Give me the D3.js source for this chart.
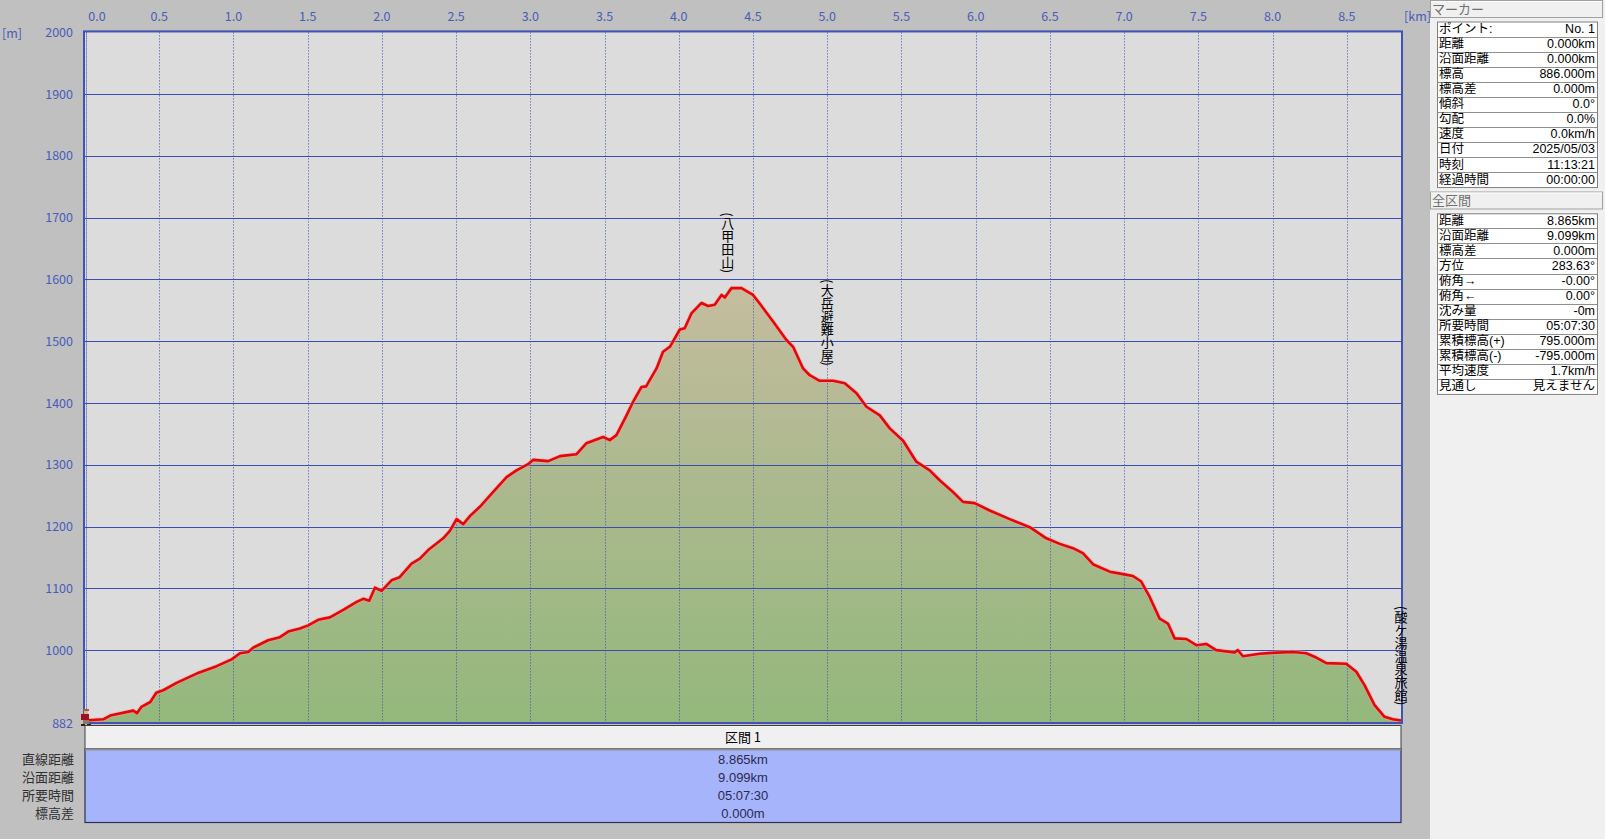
<!DOCTYPE html>
<html><head><meta charset="utf-8">
<script src="https://cdn.jsdelivr.net/npm/d3@7"></script>
<style>
body{margin:0;background:#c0c0c0;overflow:hidden}
svg{display:block}
text{font-family:"Noto Sans CJK JP","Noto Sans",sans-serif}
text.tbl{font-family:"Liberation Sans","Noto Sans CJK JP",sans-serif}
</style></head><body>
<svg id="c" width="1605" height="839"></svg>
<script>
// ---- data ----
const distKm = [0.000,0.123,0.170,0.325,0.350,0.380,0.440,0.480,0.527,0.617,0.752,0.887,0.988,1.044,1.100,1.133,1.234,1.313,1.369,1.448,1.504,1.571,1.650,1.740,1.830,1.874,1.915,1.953,1.998,2.065,2.120,2.200,2.256,2.312,2.413,2.458,2.503,2.548,2.593,2.660,2.750,2.840,2.907,2.985,3.020,3.120,3.200,3.310,3.378,3.445,3.490,3.535,3.580,3.648,3.692,3.749,3.780,3.850,3.894,3.940,4.007,4.040,4.085,4.153,4.197,4.242,4.288,4.310,4.355,4.422,4.500,4.545,4.635,4.725,4.770,4.837,4.882,4.949,5.040,5.118,5.197,5.264,5.354,5.421,5.511,5.600,5.690,5.757,5.847,5.914,5.993,6.094,6.229,6.364,6.476,6.566,6.655,6.722,6.790,6.902,6.992,7.059,7.115,7.172,7.239,7.295,7.340,7.419,7.486,7.553,7.620,7.744,7.766,7.800,7.912,8.025,8.137,8.227,8.294,8.362,8.496,8.564,8.620,8.687,8.754,8.810,8.865];
const elevM = [886,888,894,902,898,908,916,931,935,947,962,974,985,995,997,1004,1016,1021,1030,1035,1040,1049,1053,1065,1078,1083,1080,1101,1096,1113,1118,1140,1148,1162,1181,1193,1212,1204,1217,1232,1256,1280,1291,1301,1308,1306,1314,1317,1335,1341,1345,1340,1348,1380,1402,1426,1427,1456,1483,1491,1519,1521,1545,1562,1557,1559,1575,1571,1586,1586,1575,1561,1532,1502,1491,1456,1445,1436,1436,1432,1416,1394,1380,1359,1339,1305,1291,1275,1256,1240,1238,1226,1212,1199,1181,1172,1165,1157,1139,1127,1123,1120,1111,1086,1051,1043,1019,1018,1008,1010,1000,996,1000,990,994,996,997,995,988,979,978,965,943,911,892,888,886];
const xTickValues = [0.0,0.5,1.0,1.5,2.0,2.5,3.0,3.5,4.0,4.5,5.0,5.5,6.0,6.5,7.0,7.5,8.0,8.5];
const yTickValues = [882,1000,1100,1200,1300,1400,1500,1600,1700,1800,1900,2000];
const waypointNames = ["(八甲田山)","(大岳避難小屋)","(酸ケ湯温泉旅館)"];
const waypointKm = [4.33,5.0,8.865];
const waypointElev = [1586,1436,886];
const markerLabels = ["ポイント:","距離","沿面距離","標高","標高差","傾斜","勾配","速度","日付","時刻","経過時間"];
const markerValues = ["No. 1","0.000km","0.000km","886.000m","0.000m","0.0°","0.0%","0.0km/h","2025/05/03","11:13:21","00:00:00"];
const totalLabels = ["距離","沿面距離","標高差","方位","俯角→","俯角←","沈み量","所要時間","累積標高(+)","累積標高(-)","平均速度","見通し"];
const totalValues = ["8.865km","9.099km","0.000m","283.63°","-0.00°","0.00°","-0m","05:07:30","795.000m","-795.000m","1.7km/h","見えません"];
const sectionTitle = "区間 1";
const sectionLabels = ["直線距離","沿面距離","所要時間","標高差"];
const sectionValues = ["8.865km","9.099km","05:07:30","0.000m"];

// ---- layout ----
const svg = d3.select("#c");
const L=85, R=1401, T=32.4, B=723;
const x = d3.scaleLinear().domain([0,8.865]).range([L,R]);
const y = d3.scaleLinear().domain([882,2000]).range([B,T]);
const gridC = "#3a4db4", tickC = "#4a5cb8";

svg.append("rect").attr("x",0).attr("y",0).attr("width",1605).attr("height",839).attr("fill","#c0c0c0");
svg.append("rect").attr("x",L).attr("y",T).attr("width",R-L).attr("height",B-T).attr("fill","#dcdcdc");

// gradient fill
const defs = svg.append("defs");
const grad = defs.append("linearGradient").attr("id","g").attr("gradientUnits","userSpaceOnUse")
  .attr("x1",0).attr("x2",0).attr("y1",y(1600)).attr("y2",y(882));
grad.append("stop").attr("offset",0).attr("stop-color","#c6bd9f");
grad.append("stop").attr("offset",0.45).attr("stop-color","#acb98e");
grad.append("stop").attr("offset",1).attr("stop-color","#94b87c");

const pts = distKm.map((d,i)=>[d,elevM[i]]);
svg.append("path").datum(pts)
  .attr("d",d3.area().x(d=>x(d[0])).y0(y(882)).y1(d=>y(d[1])))
  .attr("fill","url(#g)");

// grid
svg.append("g").selectAll("line").data(yTickValues.filter(v=>v>882&&v<2000)).join("line")
  .attr("x1",L).attr("x2",R).attr("y1",d=>Math.round(y(d))+0.5).attr("y2",d=>Math.round(y(d))+0.5)
  .attr("stroke",gridC).attr("stroke-width",1.2);
svg.append("g").selectAll("line").data(xTickValues.filter(v=>v>0)).join("line")
  .attr("x1",d=>Math.round(x(d))+0.5).attr("x2",d=>Math.round(x(d))+0.5).attr("y1",T).attr("y2",B)
  .attr("stroke",gridC).attr("stroke-width",1).attr("stroke-dasharray","1,2");

// profile line
const line = d3.line().x(d=>x(d[0])).y(d=>y(d[1]));
svg.append("path").datum(pts).attr("d",line).attr("fill","none").attr("stroke","#ff9a9a").attr("stroke-width",4.2).attr("stroke-opacity",0.6).attr("stroke-linejoin","round");
svg.append("path").datum(pts).attr("d",line).attr("fill","none").attr("stroke","#e00808").attr("stroke-width",2.6).attr("stroke-linejoin","round");

// border
svg.append("rect").attr("x",L-1).attr("y",T-1).attr("width",R-L+2).attr("height",B-T+1)
  .attr("fill","none").attr("stroke","#4152b4").attr("stroke-width",2);
svg.append("line").attr("x1",L+1.5).attr("x2",L+1.5).attr("y1",T).attr("y2",B)
  .attr("stroke","#3040c0").attr("stroke-dasharray","1,1");

// tick labels
svg.append("g").selectAll("text").data(yTickValues).join("text")
  .attr("x",73).attr("y",d=>y(d)+4.5).attr("text-anchor","end")
  .attr("font-size",12.5).attr("fill",tickC).text(d=>d);
svg.append("g").selectAll("text").data(xTickValues).join("text")
  .attr("x",d=>Math.max(x(d),97)).attr("y",21).attr("text-anchor","middle")
  .attr("font-size",12.5).attr("fill",tickC).text(d=>d.toFixed(1));
svg.append("text").attr("x",2).attr("y",38).attr("font-size",12.5).attr("fill",tickC).text("[m]");
svg.append("text").attr("x",1404).attr("y",21).attr("font-size",12.5).attr("fill",tickC).text("[km]");

// waypoint labels (vertical)
svg.append("g").selectAll("text").data(waypointNames).join("text")
  .attr("x",(d,i)=>Math.min(x(waypointKm[i]),1402))
  .attr("y",(d,i)=>y(waypointElev[i])-15)
  .style("writing-mode","vertical-rl").attr("text-anchor","end")
  .attr("font-size",13).attr("fill","#000").text(d=>d);

// hiker icon
const h = svg.append("g").attr("transform",`translate(${L-5},${B-14})`);
h.append("rect").attr("x",3).attr("y",0).attr("width",6).attr("height",2).attr("fill","#a06040");
h.append("rect").attr("x",4).attr("y",2).attr("width",4).attr("height",3).attr("fill","#e0b090");
h.append("rect").attr("x",1).attr("y",5).attr("width",8).attr("height",6).attr("fill","#a01020");
h.append("rect").attr("x",3).attr("y",11).attr("width",6).attr("height",4).attr("fill","#8a7a60");
h.append("rect").attr("x",1).attr("y",15).attr("width",4).attr("height",2).attr("fill","#302010");
h.append("rect").attr("x",7).attr("y",15).attr("width",4).attr("height",2).attr("fill","#302010");

// bottom section table
svg.append("rect").attr("x",L).attr("y",725.5).attr("width",R-L).attr("height",23.5).attr("fill","#f0f0f0")
  .attr("stroke","#404040").attr("stroke-width",1);
svg.append("text").attr("x",(L+R)/2).attr("y",742).attr("text-anchor","middle").attr("font-size",13).attr("fill","#000").text(sectionTitle);
svg.append("rect").attr("x",L).attr("y",749).attr("width",R-L).attr("height",73.5).attr("fill","#a6b4fc")
  .attr("stroke","#303050").attr("stroke-width",1.2);
svg.append("line").attr("x1",L).attr("x2",R).attr("y1",749.5).attr("y2",749.5).attr("stroke","#909090").attr("stroke-width",2);
const rowY = [764,782,800,818];
svg.append("g").selectAll("text").data(sectionLabels).join("text").attr("class","tbl")
  .attr("x",74).attr("y",(d,i)=>rowY[i]).attr("text-anchor","end").attr("font-size",13).attr("fill","#303030").text(d=>d);
svg.append("g").selectAll("text").data(sectionValues).join("text").attr("class","tbl")
  .attr("x",(L+R)/2).attr("y",(d,i)=>rowY[i]-0.5).attr("text-anchor","middle").attr("font-size",13).attr("fill","#2a2a50").text(d=>d);

// right panel
svg.append("rect").attr("x",1430).attr("y",0).attr("width",175).attr("height",839).attr("fill","#f0f0f0");
function header(y0, label){
  svg.append("rect").attr("x",1430.5).attr("y",y0+0.5).attr("width",172).attr("height",17).attr("fill","#f0f0f0")
    .attr("stroke","#a0a0a0");
  svg.append("line").attr("x1",1431).attr("x2",1602).attr("y1",y0+1.5).attr("y2",y0+1.5).attr("stroke","#ffffff");
  svg.append("text").attr("x",1432).attr("y",y0+13.5).attr("font-size",13).attr("fill","#707070").text(label);
}
function table(y0, labels, values){
  const rh = 15.05;
  const g = svg.append("g");
  g.append("rect").attr("x",1437.5).attr("y",y0+0.5).attr("width",160).attr("height",rh*labels.length)
    .attr("fill","#ffffff").attr("stroke","#808080");
  g.selectAll("line").data(labels.slice(1)).join("line")
    .attr("x1",1438).attr("x2",1597).attr("y1",(d,i)=>Math.round(y0+rh*(i+1))+0.5).attr("y2",(d,i)=>Math.round(y0+rh*(i+1))+0.5)
    .attr("stroke","#909090");
  g.selectAll("text.l").data(labels).join("text").attr("class","l tbl")
    .attr("x",1439).attr("y",(d,i)=>y0+rh*(i+1)-3.5).attr("font-size",12.5).attr("fill","#000").text(d=>d);
  g.selectAll("text.v").data(values).join("text").attr("class","v tbl")
    .attr("x",1595).attr("y",(d,i)=>y0+rh*(i+1)-3.5).attr("text-anchor","end").attr("font-size",12.5).attr("fill","#000").text(d=>d);
}
header(0,"マーカー");
table(21.5, markerLabels, markerValues);
header(191.5,"全区間");
table(213.3, totalLabels, totalValues);
</script></body></html>
